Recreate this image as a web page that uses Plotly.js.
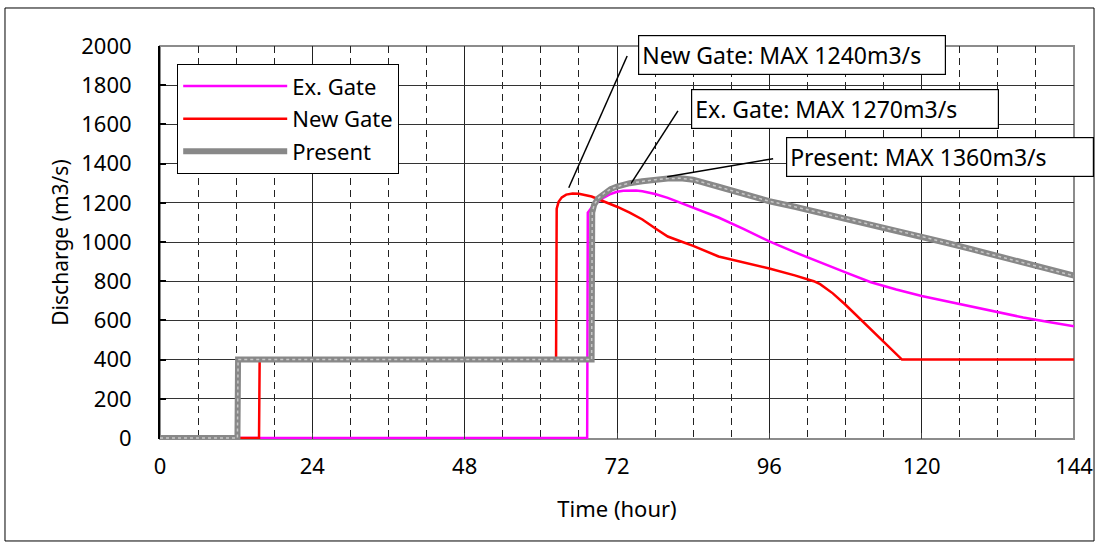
<!DOCTYPE html>
<html>
<head>
<meta charset="utf-8">
<script src="https://cdn.plot.ly/plotly-3.0.1.min.js"></script>
<style>
html,body{margin:0;padding:0;background:#fff;}
#chart{width:1099px;height:543px;}
</style>
</head>
<body>
<div id="chart"></div>
<script>
// ---- data (hours, m3/s) ----
const seriesNames = ["Ex. Gate", "New Gate", "Present"];

const timeEx = [0, 67.3, 67.4, 68, 69, 70, 71, 72, 73, 74, 75, 76, 78, 80, 82, 84, 86, 88, 92, 96, 100, 104, 108, 112, 116, 120, 124, 128, 132, 136, 140, 144];
const flowEx = [0, 0, 1150, 1175, 1205, 1228, 1245, 1256, 1262, 1264, 1263, 1259, 1245, 1225, 1200, 1175, 1150, 1125, 1066, 1003, 948, 895, 845, 795, 758, 725, 697, 668, 640, 615, 592, 570];

const timeNew = [0, 15.6, 15.7, 62.4, 62.5, 62.8, 63.3, 64, 65, 66, 68, 70, 72, 74, 76, 78, 80, 82, 84, 88, 92, 96, 100, 102, 103, 104, 105, 106, 108, 110, 112, 114, 116, 116.9, 144];
const flowNew = [0, 0, 400, 400, 1170, 1205, 1228, 1242, 1247, 1246, 1232, 1207, 1180, 1150, 1115, 1070, 1028, 1004, 980, 926, 895, 865, 830, 812, 800, 785, 762, 738, 680, 618, 555, 492, 430, 400, 400];

const timePresent = [0, 12.2, 12.3, 68.0, 68.1, 68.4, 69, 70, 71, 72, 73, 74, 76, 78, 80, 82, 84, 88, 92, 96, 100, 104, 108, 112, 116, 120, 124, 128, 132, 136, 140, 144];
const flowPresent = [0, 0, 400, 400, 1150, 1190, 1222, 1250, 1270, 1283, 1293, 1300, 1310, 1318, 1324, 1325, 1318, 1282, 1246, 1208, 1180, 1150, 1118, 1088, 1058, 1028, 995, 962, 928, 895, 862, 828];

const xTicks = [0, 24, 48, 72, 96, 120, 144];
const yTicks = [0, 200, 400, 600, 800, 1000, 1200, 1400, 1600, 1800, 2000];

// callout labels: text, box left (x,y in data), leader tail and head
const calloutText = ["New Gate: MAX 1240m3/s", "Ex. Gate: MAX 1270m3/s", "Present: MAX 1360m3/s"];
const calloutBoxX = [75.3, 83.66, 98.63];
const calloutBoxY = [1952, 1677, 1433];
const leaderX0 = [73.6, 81.6, 96.6];
const leaderY0 = [1949, 1669, 1425];
const leaderX1 = [64.4, 74.2, 79.9];
const leaderY1 = [1277, 1298, 1333];

const FONT = "Noto Sans, DejaVu Sans, sans-serif";

const traces = [
  {x: timeEx, y: flowEx, name: seriesNames[0], mode: "lines", legendgroup: "a",
   line: {color: "#ff00ff", width: 2.5}},
  {x: timeNew, y: flowNew, name: seriesNames[1], mode: "lines", legendgroup: "b",
   line: {color: "#ff0000", width: 2.5}},
  {x: timePresent, y: flowPresent, name: seriesNames[2], mode: "lines", legendgroup: "c",
   line: {color: "#888888", width: 6}},
  {x: timePresent, y: flowPresent, name: seriesNames[2], mode: "lines", showlegend: false,
   line: {color: "#c8c8c8", width: 1.5, dash: "dot"}}
];

const shapes = [
  // plot frame
  {type: "rect", xref: "paper", yref: "paper", x0: 0, x1: 1, y0: 0, y1: 1,
   line: {color: "#8c8c8c", width: 2}, layer: "below"},
  // outer figure frame
  {type: "rect", xref: "paper", yref: "paper", x0: -0.1696, x1: 1.0219, y0: -0.2595, y1: 1.0967,
   line: {color: "#000", width: 1}, layer: "above"}
];
for (let i = 0; i < calloutText.length; i++) {
  shapes.push({type: "line", xref: "x", yref: "y", x0: leaderX0[i], y0: leaderY0[i],
    x1: leaderX1[i], y1: leaderY1[i], line: {color: "#000", width: 1.5}, layer: "above"});
}

const annotations = calloutText.map((t, i) => ({
  text: t, xref: "x", yref: "y", x: calloutBoxX[i], y: calloutBoxY[i],
  xanchor: "left", yanchor: "middle", showarrow: false, align: "left",
  width: 300, borderpad: 3, bordercolor: "#000", borderwidth: 1.2, bgcolor: "#fff",
  font: {family: FONT, size: 23, color: "#000"}
}));

const layout = {
  width: 1099, height: 543,
  margin: {l: 160, r: 25, t: 46, b: 104},
  paper_bgcolor: "#fff", plot_bgcolor: "#fff",
  font: {family: FONT, size: 22, color: "#000"},
  showlegend: true,
  legend: {x: 0.0186, y: 0.954, xanchor: "left", yanchor: "top",
    bgcolor: "#fff", bordercolor: "#000", borderwidth: 1.2,
    font: {family: FONT, size: 22, color: "#000"},
    tracegroupgap: 1, itemwidth: 104, entrywidth: 250, entrywidthmode: "pixels"},
  xaxis: {range: [0, 144], tickvals: xTicks, ticktext: xTicks.map(String),
    showgrid: true, gridcolor: "#222", gridwidth: 1,
    minor: {dtick: 6, tick0: 0, showgrid: true, gridcolor: "#222", griddash: "7px,5px", gridwidth: 1},
    ticks: "inside", ticklen: 6, tickcolor: "#444", tickwidth: 1,
    showline: false, zeroline: false, ticklabelstandoff: 12,
    tickfont: {family: FONT, size: 22, color: "#000"},
    title: {text: "Time (hour)", font: {family: FONT, size: 22, color: "#000"}, standoff: 22}},
  yaxis: {range: [-5, 2000], tickvals: yTicks, ticktext: yTicks.map(String),
    showgrid: true, gridcolor: "#333", gridwidth: 1,
    ticks: "inside", ticklen: 6, tickcolor: "#000", tickwidth: 2,
    showline: true, linecolor: "#000", linewidth: 2, zeroline: false,
    ticklabelstandoff: 22,
    tickfont: {family: FONT, size: 22, color: "#000"},
    title: {text: "Discharge (m3/s)", font: {family: FONT, size: 21, color: "#000"}, standoff: 7}},
  shapes: shapes,
  annotations: annotations
};

Plotly.newPlot("chart", traces, layout, {staticPlot: true, displayModeBar: false});
</script>
</body>
</html>
